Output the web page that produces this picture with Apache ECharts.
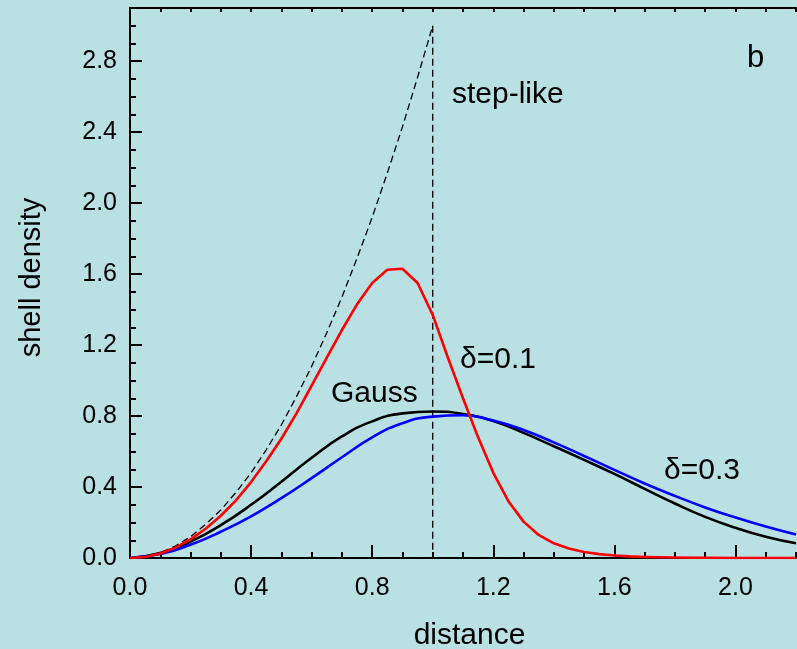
<!DOCTYPE html>
<html>
<head>
<meta charset="utf-8">
<title>shell density</title>
<script src="https://cdn.jsdelivr.net/npm/echarts@6/dist/echarts.min.js"></script>
<style>
  html, body { margin: 0; padding: 0; background: #b9e0e3; }
  #chart { width: 797px; height: 649px; }
</style>
</head>
<body>
<div id="chart"></div>
<script>
// Tick labels
const xMajorTicks = [0, 0.4, 0.8, 1.2, 1.6, 2.0];
const yMajorTicks = [0, 0.4, 0.8, 1.2, 1.6, 2.0, 2.4, 2.8];

// Step-like profile: 3r^2 inside the sphere, zero outside
const stepDistance = [0, 0.05, 0.1, 0.15, 0.2, 0.25, 0.3, 0.35, 0.4, 0.45, 0.5,
  0.55, 0.6, 0.65, 0.7, 0.75, 0.8, 0.85, 0.9, 0.95, 1.0, 1.0, 2.2];
const stepDensity = [0, 0.0075, 0.03, 0.0675, 0.12, 0.19, 0.27, 0.37, 0.48, 0.61, 0.75,
  0.91, 1.08, 1.27, 1.47, 1.69, 1.92, 2.17, 2.43, 2.71, 3.0, 0, 0];

// Gauss and delta = 0.3 profiles
const smoothDistance = [0, 0.1, 0.2, 0.3, 0.4, 0.5, 0.6, 0.7, 0.8, 0.9, 1.0, 1.1,
  1.2, 1.3, 1.4, 1.5, 1.6, 1.7, 1.8, 1.9, 2.0, 2.1, 2.2];
const gaussDensity = [0, 0.028, 0.092, 0.185, 0.30, 0.43, 0.565, 0.685, 0.770, 0.815, 0.826, 0.812,
  0.772, 0.705, 0.630, 0.553, 0.474, 0.390, 0.307, 0.232, 0.170, 0.120, 0.083];
const delta03Density = [0, 0.022, 0.075, 0.148, 0.235, 0.337, 0.45, 0.568, 0.680, 0.760, 0.797, 0.805,
  0.775, 0.722, 0.652, 0.575, 0.497, 0.420, 0.350, 0.285, 0.228, 0.177, 0.132];

// delta = 0.1 profile
const delta01Distance = [0, 0.05, 0.1, 0.15, 0.2, 0.25, 0.3, 0.35, 0.4, 0.45, 0.5, 0.55,
  0.6, 0.65, 0.7, 0.75, 0.8, 0.85, 0.9, 0.95, 1.0, 1.05, 1.1, 1.15, 1.2, 1.25, 1.3, 1.35,
  1.4, 1.45, 1.5, 1.55, 1.6, 1.65, 1.7, 1.75, 1.8, 1.9, 2.0, 2.1, 2.2];
const delta01Density = [0, 0.006, 0.025, 0.058, 0.105, 0.165, 0.238, 0.325, 0.428, 0.545, 0.672, 0.815,
  0.972, 1.13, 1.285, 1.43, 1.55, 1.625, 1.63, 1.55, 1.37, 1.13, 0.90, 0.68, 0.48, 0.32, 0.205, 0.13,
  0.083, 0.053, 0.034, 0.022, 0.014, 0.009, 0.006, 0.004, 0.003, 0.001, 0, 0, 0];

const pairs = (xs, ys) => xs.map((x, i) => [x, ys[i]]);

const FONT = '"Liberation Sans", Arial, sans-serif';
const fmt = v => Number(v).toFixed(1);

const chart = echarts.init(document.getElementById('chart'), null, { renderer: 'canvas' });

const baseX = { type: 'value', min: 0, max: 2.2, splitLine: { show: false } };
const baseY = { type: 'value', min: 0, max: 3.1, splitLine: { show: false } };

chart.setOption({
  backgroundColor: '#b9e0e3',
  animation: false,
  grid: { left: 130, right: 1, top: 8, bottom: 91, containLabel: false },
  xAxis: [
    Object.assign({}, baseX, {
      position: 'bottom',
      axisLine: { show: true, lineStyle: { color: '#000', width: 2 } },
      axisTick: { show: true, inside: true, length: 13, lineStyle: { color: '#000', width: 2 },
        customValues: xMajorTicks },
      axisLabel: { show: true, customValues: xMajorTicks, formatter: fmt, margin: 18,
        color: '#000', fontSize: 25, fontFamily: FONT }
    }),
    Object.assign({}, baseX, {
      position: 'bottom', interval: 0.1,
      axisLine: { show: false },
      axisTick: { show: true, inside: true, length: 6, lineStyle: { color: '#000', width: 2 } },
      axisLabel: { show: false }
    }),
    Object.assign({}, baseX, {
      position: 'top', interval: 0.1,
      axisLine: { show: true, lineStyle: { color: '#000', width: 2 } },
      axisTick: { show: true, inside: true, length: 4, lineStyle: { color: '#000', width: 2 } },
      axisLabel: { show: false }
    })
  ],
  yAxis: [
    Object.assign({}, baseY, {
      position: 'left',
      axisLine: { show: true, lineStyle: { color: '#000', width: 2 } },
      axisTick: { show: true, inside: true, length: 12, lineStyle: { color: '#000', width: 2 },
        customValues: yMajorTicks },
      axisLabel: { show: true, customValues: yMajorTicks, formatter: fmt, margin: 13,
        color: '#000', fontSize: 25, fontFamily: FONT }
    }),
    Object.assign({}, baseY, {
      position: 'left', interval: 0.1,
      axisLine: { show: false },
      axisTick: { show: true, inside: true, length: 6, lineStyle: { color: '#000', width: 2 } },
      axisLabel: { show: false }
    })
  ],
  series: [
    {
      name: 'step-like', type: 'line', xAxisIndex: 0, yAxisIndex: 0,
      data: pairs(stepDistance, stepDensity), symbol: 'none', z: 2,
      lineStyle: { color: '#000', width: 1.3, type: [7, 4] }
    },
    {
      name: 'Gauss', type: 'line', xAxisIndex: 0, yAxisIndex: 0,
      data: pairs(smoothDistance, gaussDensity), symbol: 'none', smooth: 0.5, z: 3,
      lineStyle: { color: '#000', width: 2.6 }
    },
    {
      name: 'δ=0.3', type: 'line', xAxisIndex: 0, yAxisIndex: 0,
      data: pairs(smoothDistance, delta03Density), symbol: 'none', smooth: 0.5, z: 4,
      lineStyle: { color: '#0000ff', width: 2.6 }
    },
    {
      name: 'δ=0.1', type: 'line', xAxisIndex: 0, yAxisIndex: 0,
      data: pairs(delta01Distance, delta01Density), symbol: 'none', z: 5,
      lineStyle: { color: '#ff0000', width: 2.6, join: 'round' }
    }
  ],
  graphic: [
    { type: 'text', x: 747, y: 58, z: 10,
      style: { text: 'b', font: '31px ' + FONT, fill: '#000', align: 'left', verticalAlign: 'middle' } },
    { type: 'text', x: 452, y: 95, z: 10,
      style: { text: 'step-like', font: '30px ' + FONT, fill: '#000', align: 'left', verticalAlign: 'middle' } },
    { type: 'text', x: 331, y: 393.5, z: 10,
      style: { text: 'Gauss', font: '30px ' + FONT, fill: '#000', align: 'left', verticalAlign: 'middle' } },
    { type: 'text', x: 460, y: 360, z: 10,
      style: { text: 'δ=0.1', font: '30px ' + FONT, fill: '#000', align: 'left', verticalAlign: 'middle' } },
    { type: 'text', x: 664, y: 471, z: 10,
      style: { text: 'δ=0.3', font: '30px ' + FONT, fill: '#000', align: 'left', verticalAlign: 'middle' } },
    { type: 'text', x: 469.5, y: 635.5, z: 10,
      style: { text: 'distance', font: '30px ' + FONT, fill: '#000', align: 'center', verticalAlign: 'middle' } },
    { type: 'text', x: 32, y: 277.5, rotation: Math.PI / 2, z: 10,
      style: { text: 'shell density', font: '29px ' + FONT, fill: '#000', align: 'center', verticalAlign: 'middle' } }
  ]
});
</script>
</body>
</html>
